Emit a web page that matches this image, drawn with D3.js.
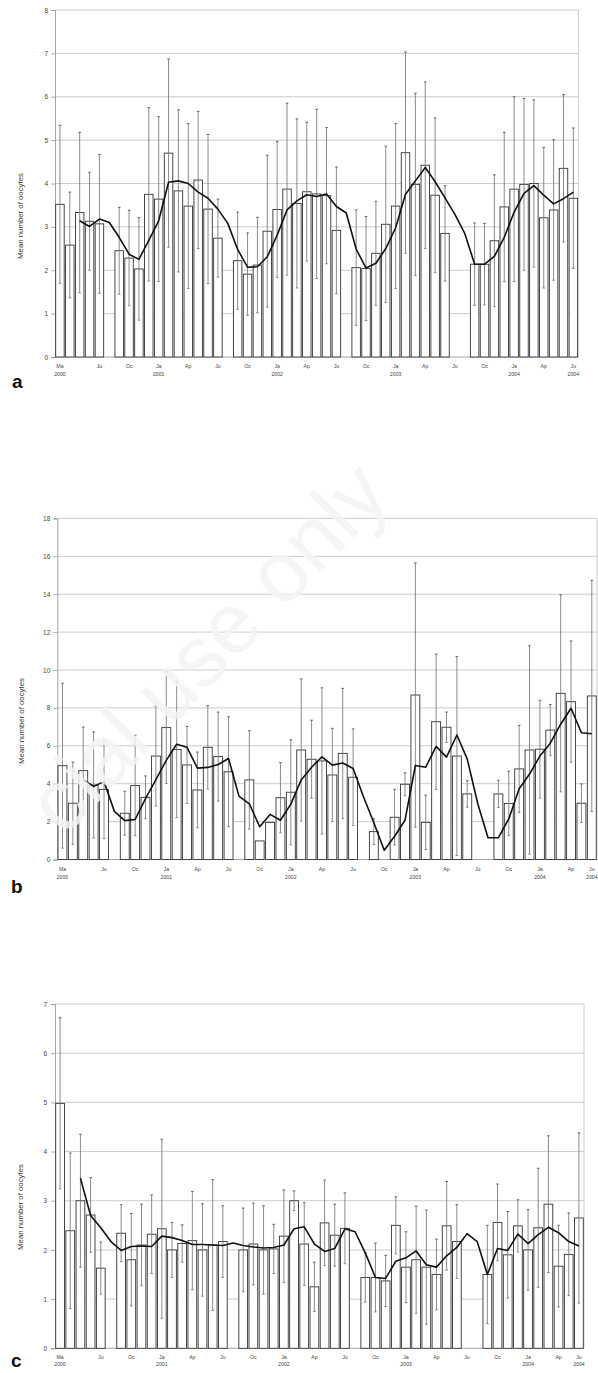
<!DOCTYPE html>
<html><head><meta charset="utf-8">
<script src="https://cdn.jsdelivr.net/npm/d3@7"></script>
<style>body{margin:0;background:#fff}svg{display:block}</style>
</head><body>
<svg id="chart" width="598" height="1373"></svg>
<script>
// ---------- DATA ----------
const categoriesA = ["Mar 2000","Apr 2000","May 2000","Jun 2000","Jul 2000","Aug 2000","Sep 2000","Oct 2000","Nov 2000","Dec 2000",
"Jan 2001","Feb 2001","Mar 2001","Apr 2001","May 2001","Jun 2001","Jul 2001","Aug 2001","Sep 2001","Oct 2001","Nov 2001","Dec 2001",
"Jan 2002","Feb 2002","Mar 2002","Apr 2002","May 2002","Jun 2002","Jul 2002","Aug 2002","Sep 2002","Oct 2002","Nov 2002","Dec 2002",
"Jan 2003","Feb 2003","Mar 2003","Apr 2003","May 2003","Jun 2003","Jul 2003","Aug 2003","Sep 2003","Oct 2003","Nov 2003","Dec 2003",
"Jan 2004","Feb 2004","Mar 2004","Apr 2004","May 2004","Jun 2004","Jul 2004"];
const categoriesBC = categoriesA.slice(0, 52);

const tickCatsA = ["Mar 2000","Jul 2000","Oct 2000","Jan 2001","Apr 2001","Jul 2001","Oct 2001","Jan 2002","Apr 2002","Jul 2002","Oct 2002","Jan 2003","Apr 2003","Jul 2003","Oct 2003","Jan 2004","Apr 2004","Jul 2004"];
const tickCatsBC = ["Mar 2000","Jul 2000","Oct 2000","Jan 2001","Apr 2001","Jul 2001","Oct 2001","Jan 2002","Apr 2002","Jul 2002","Oct 2002","Jan 2003","Apr 2003","Jul 2003","Oct 2003","Jan 2004","Apr 2004","Jun 2004"];
const tickMonths = ["Ma","Ju","Oc","Ja","Ap","Ju","Oc","Ja","Ap","Ju","Oc","Ja","Ap","Ju","Oc","Ja","Ap","Ju"];
const tickYears  = ["2000","","","2001","","","","2002","","","","2003","","","","2004","","2004"];

const yTicksA = [0,1,2,3,4,5,6,7,8];
const yTicksB = [0,2,4,6,8,10,12,14,16,18];
const yTicksC = [0,1,2,3,4,5,6,7];

// panel a
const meanA = [3.52,2.58,3.33,3.13,3.07,null,2.45,2.28,2.03,3.75,
3.64,4.70,3.83,3.48,4.08,3.41,2.74,null,2.22,1.91,2.12,2.90,
3.40,3.87,3.54,3.81,3.76,3.72,2.92,null,2.06,2.04,2.39,3.06,
3.48,4.71,3.98,4.42,3.73,2.85,null,null,2.14,2.14,2.68,3.46,
3.87,3.98,4.00,3.21,3.39,4.35,3.66];
const errA = [1.82,1.22,1.85,1.13,1.60,null,1.00,1.10,1.18,2.00,
1.90,2.17,1.87,1.90,1.58,1.72,0.90,null,1.12,0.95,1.10,1.75,
1.57,1.98,1.95,1.60,1.95,1.57,1.46,null,1.33,1.20,1.20,1.80,
1.90,2.32,2.10,1.92,1.78,1.10,null,null,0.95,0.94,1.52,1.72,
2.13,1.98,1.93,1.62,1.62,1.70,1.62];
const trendA = [null,null,3.14,3.01,3.18,3.10,2.76,2.37,2.25,2.69,
3.14,4.03,4.06,4.00,3.80,3.66,3.41,3.08,2.48,2.07,2.08,2.31,
2.81,3.39,3.60,3.74,3.70,3.76,3.47,3.32,2.49,2.05,2.16,2.50,
2.98,3.75,4.06,4.37,4.04,3.67,3.29,2.85,2.14,2.14,2.32,2.76,
3.34,3.77,3.95,3.73,3.53,3.65,3.80];

// panel b
const meanB = [4.95,2.97,4.69,3.93,3.70,0,2.44,3.90,3.28,5.46,
6.96,5.81,4.99,3.67,5.92,5.43,4.63,0,4.20,0.98,1.96,3.26,
3.55,5.78,5.29,5.20,4.46,5.60,4.34,0,1.47,0,2.23,3.97,
8.68,1.96,7.27,6.98,5.46,3.46,0,0,3.46,2.96,4.78,5.78,
5.82,6.83,8.77,8.33,2.97,8.63];
const errB = [4.35,2.17,2.30,2.80,2.60,0,1.16,2.65,1.13,2.64,
2.95,3.60,2.03,2.00,2.20,2.35,2.90,0,2.60,0,0,1.85,
2.77,3.75,2.06,3.86,2.46,3.43,2.55,0,0.68,0,1.47,0.60,
6.97,1.44,3.57,0.80,5.25,0.70,0,0,0.72,1.70,2.30,5.50,
2.58,1.35,5.20,3.20,1.02,6.10];
const trendB = [null,null,4.20,3.86,4.11,2.54,2.05,2.11,3.21,4.21,
5.23,6.08,5.92,4.82,4.86,5.01,5.33,3.35,2.94,1.73,2.38,2.07,
2.92,4.20,4.87,5.42,4.98,5.09,4.80,3.31,1.94,0.49,1.23,2.07,
4.96,4.87,5.97,5.40,6.57,5.30,2.97,1.15,1.15,2.14,3.73,4.51,
5.46,6.14,7.14,7.98,6.69,6.64];

// panel c
const meanC = [4.98,2.39,3.00,2.71,1.63,null,2.34,1.80,2.10,2.32,
2.43,2.00,2.13,2.19,2.00,2.10,2.17,null,2.00,2.12,2.00,2.02,
2.28,3.00,2.12,1.25,2.55,2.30,2.44,null,1.44,1.44,1.37,2.50,
1.65,1.80,1.65,1.50,2.49,2.17,null,null,1.50,2.56,1.90,2.49,
2.00,2.45,2.93,1.67,1.91,2.65];
const errC = [1.74,1.58,1.35,0.76,0.53,null,0.58,0.94,0.83,0.80,
1.82,0.56,0.38,1.00,0.94,1.33,0.73,null,0.85,0.83,0.90,0.50,
0.94,0.20,0.84,0.50,0.87,0.63,0.72,null,0.50,0.70,0.52,0.58,
0.72,1.09,1.16,0.72,0.90,0.75,null,null,1.00,0.78,0.88,0.53,
0.82,1.21,1.39,0.83,0.84,1.73];
const trendC = [null,null,3.46,2.70,2.45,2.17,1.99,2.07,2.08,2.07,
2.28,2.25,2.19,2.11,2.11,2.10,2.09,2.14,2.09,2.06,2.04,2.05,
2.10,2.43,2.47,2.12,1.97,2.03,2.43,2.37,1.94,1.44,1.42,1.77,
1.84,1.98,1.70,1.65,1.88,2.05,2.33,2.17,1.50,2.03,1.99,2.32,
2.13,2.31,2.46,2.35,2.17,2.08];

const yTitle = "Mean number of oocytes";

// ---------- DRAW ----------
const svg = d3.select("#chart");
const FONT = "'Liberation Sans', Arial, sans-serif";

function drawPanel(cfg) {
  const g = svg.append("g");
  const x = d3.scaleBand().domain(cfg.cats).range([cfg.left, cfg.right]).paddingInner(0.14).paddingOuter(0.07);
  const y = d3.scaleLinear().domain([0, cfg.ymax]).range([cfg.bottom, cfg.top]);
  const cx = c => x(c) + x.bandwidth() / 2;

  // gridlines
  g.append("g").selectAll("line").data(cfg.yticks.filter(v => v > 0)).join("line")
    .attr("x1", cfg.left).attr("x2", cfg.right)
    .attr("y1", d => y(d)).attr("y2", d => y(d))
    .attr("stroke", "#c6c6c6").attr("stroke-width", 0.9);
  // right frame
  g.append("line").attr("x1", cfg.right).attr("x2", cfg.right).attr("y1", y(cfg.ymax)).attr("y2", y(0))
    .attr("stroke", "#c6c6c6").attr("stroke-width", 0.9);

  // y axis
  const ax = g.append("g").attr("transform", `translate(${cfg.left},0)`)
    .call(d3.axisLeft(y).tickValues(cfg.yticks).tickSize(4).tickPadding(cfg.tickPad).tickFormat(d3.format("d")));
  ax.select(".domain").attr("stroke", "#9a9a9a").attr("stroke-width", 0.9);
  ax.selectAll(".tick line").attr("stroke", "#9a9a9a").attr("stroke-width", 0.8);
  ax.selectAll(".tick text").attr("font-family", FONT).attr("font-size", 6.5).attr("fill", "#444");

  // x axis baseline
  g.append("line").attr("x1", cfg.left).attr("x2", cfg.right).attr("y1", y(0)).attr("y2", y(0))
    .attr("stroke", "#9a9a9a").attr("stroke-width", 0.9);

  const rows = cfg.cats.map((c, i) => ({c, v: cfg.mean[i], e: cfg.err[i], t: cfg.trend[i]}));

  // bars
  g.append("g").selectAll("rect").data(rows.filter(d => d.v !== null && d.v > 0)).join("rect")
    .attr("x", d => x(d.c)).attr("width", x.bandwidth())
    .attr("y", d => y(d.v)).attr("height", d => y(0) - y(d.v))
    .attr("fill", "#fff").attr("stroke", "#333").attr("stroke-width", 0.9);

  // error bars
  const eb = rows.filter(d => d.v !== null && d.e);
  const eg = g.append("g").attr("stroke", "#6e6e6e").attr("stroke-width", 0.8);
  eg.selectAll("line.v").data(eb).join("line").attr("class", "v")
    .attr("x1", d => cx(d.c)).attr("x2", d => cx(d.c))
    .attr("y1", d => y(Math.max(0, d.v - d.e))).attr("y2", d => y(d.v + d.e));
  eg.selectAll("line.t").data(eb).join("line").attr("class", "t")
    .attr("x1", d => cx(d.c) - 1.3).attr("x2", d => cx(d.c) + 1.3)
    .attr("y1", d => y(d.v + d.e)).attr("y2", d => y(d.v + d.e)).attr("stroke-width", 1.1);
  eg.selectAll("line.b").data(eb).join("line").attr("class", "b")
    .attr("x1", d => cx(d.c) - 1.3).attr("x2", d => cx(d.c) + 1.3)
    .attr("y1", d => y(Math.max(0, d.v - d.e))).attr("y2", d => y(Math.max(0, d.v - d.e)));

  // trend line
  const line = d3.line().defined(d => d.t !== null).x(d => cx(d.c)).y(d => y(d.t));
  g.append("path").datum(rows.filter(d => d.t !== null)).attr("d", line)
    .attr("fill", "none").attr("stroke", "#111").attr("stroke-width", 1.6).attr("stroke-linejoin", "round");

  // x labels
  const lab = g.append("g").attr("font-family", FONT).attr("font-size", 5.2).attr("fill", "#444").attr("text-anchor", "middle");
  cfg.tickCats.forEach((c, i) => {
    lab.append("text").attr("x", cx(c)).attr("y", y(0) + cfg.mY).text(tickMonths[i]);
    if (tickYears[i]) lab.append("text").attr("x", cx(c)).attr("y", y(0) + cfg.yY).text(tickYears[i]);
  });

  // y title
  g.append("text").attr("transform", `translate(${cfg.titleX},${cfg.titleY}) rotate(-90)`)
    .attr("text-anchor", "middle").attr("font-family", FONT).attr("font-size", 7.8).attr("fill", "#333").text(yTitle);

  // panel letter
  g.append("text").attr("x", cfg.letterX).attr("y", cfg.letterY).attr("font-family", FONT)
    .attr("font-weight", "bold").attr("font-size", 19).attr("fill", "#111").text(cfg.letter);
}

drawPanel({cats: categoriesA, mean: meanA, err: errA, trend: trendA, tickCats: tickCatsA, yticks: yTicksA, ymax: 8,
  left: 55, right: 578.3, top: 10, bottom: 357, tickPad: 3, mY: 11, yY: 18.5,
  titleX: 23, titleY: 216, letter: "a", letterX: 12, letterY: 388});
drawPanel({cats: categoriesBC, mean: meanB, err: errB, trend: trendB, tickCats: tickCatsBC, yticks: yTicksB, ymax: 18,
  left: 57.3, right: 597, top: 518.4, bottom: 859.5, tickPad: 3, mY: 11, yY: 19.5,
  titleX: 23.5, titleY: 721, letter: "b", letterX: 11, letterY: 893});
drawPanel({cats: categoriesBC, mean: meanC, err: errC, trend: trendC, tickCats: tickCatsBC, yticks: yTicksC, ymax: 7,
  left: 55, right: 584, top: 1004, bottom: 1348.3, tickPad: 4, mY: 11, yY: 18,
  titleX: 23, titleY: 1207, letter: "c", letterX: 11, letterY: 1367});

// watermark
svg.append("text").attr("transform", "translate(64,838) rotate(-46)")
  .attr("font-family", FONT).attr("font-size", 86).attr("fill", "#f3f3f3").attr("fill-opacity", 0.85)
  .text("cial use only");
</script>
</body></html>
